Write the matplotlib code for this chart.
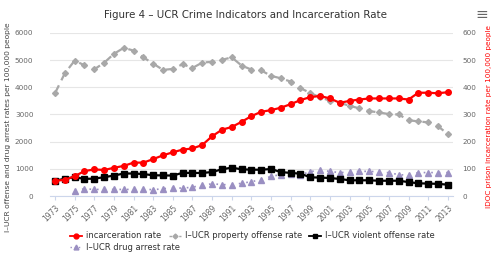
import matplotlib.pyplot as plt
from matplotlib.lines import Line2D

years = list(range(1973, 2014))

# IDOC prison incarceration rate (right axis)
incarceration = [56, 60, 73, 92, 98, 96, 104, 111, 123, 123, 136, 150, 161, 171, 175, 188,
                 220, 244, 254, 273, 294, 310, 316, 325, 338, 353, 364, 368, 359, 343,
                 350, 355, 359, 359, 359, 359, 355, 380, 380, 378, 382]

# I-UCR rates (left axis)
property_rate = [3780, 4515, 4980, 4810, 4660, 4900, 5230, 5450, 5350, 5100, 4870, 4640,
                 4675, 4850, 4710, 4910, 4935, 5010, 5100, 4800, 4650, 4620, 4420, 4330,
                 4210, 3970, 3790, 3630, 3505, 3430, 3320, 3225, 3125, 3075, 3015, 3000,
                 2790, 2745, 2710, 2570, 2280]
violent_rate = [560, 640, 690, 635, 640, 695, 755, 830, 830, 810, 765, 760, 755, 855, 850,
                850, 885, 985, 1045, 985, 970, 970, 995, 885, 850, 825, 690, 680, 665, 630,
                580, 580, 580, 565, 565, 565, 515, 470, 460, 450, 420]
drug_years = list(range(1975, 2014))
drug_rate = [200, 270, 245, 245, 245, 245, 245, 255, 235, 270, 310, 290, 330, 395, 455,
             420, 420, 470, 530, 605, 725, 790, 825, 780, 900, 950, 910, 860, 890, 910,
             910, 890, 860, 790, 765, 865, 865, 865, 865]

red = '#ff0000'
grey = '#a8a8a8'
purple = '#9a8fc2'
label_col = '#666666'

fig = plt.figure(figsize=(4.91, 2.57), dpi=100)
ax = fig.add_axes([0.102, 0.237, 0.820, 0.635])
ax2 = ax.twinx()

ax.plot(years, property_rate, color=grey, lw=1.6, ls=(0, (4, 2.5)), marker='D', ms=3,
        zorder=3)
ax.plot(drug_years, drug_rate, color=purple, lw=1.2, ls=(0, (1, 3.5)), marker='^', ms=4,
        zorder=3)
ax.plot(years, violent_rate, color='black', lw=1.6, marker='s', ms=4, zorder=4)
ax2.plot(years, incarceration, color=red, lw=1.6, marker='o', ms=4, zorder=5)

ax.set_xlim(1972.5, 2013.5)
ax.set_ylim(0, 6000)
ax2.set_ylim(0, 600)
ax.set_yticks(range(0, 6001, 1000))
ax2.set_yticks(range(0, 601, 100))
ax.set_xticks(range(1973, 2014, 2))
ax.set_xticklabels([str(y) for y in range(1973, 2014, 2)], rotation=45, ha='right',
                   rotation_mode='anchor', fontsize=5.5, color=label_col)
ax.tick_params(axis='x', length=3, color='#ccd6eb', pad=2)
ax.tick_params(axis='y', length=0, labelsize=5.2, labelcolor=label_col, pad=12)
ax2.tick_params(axis='y', length=0, labelsize=5.2, labelcolor=label_col, pad=7)
ax.grid(axis='y', color='#e6e6e6', lw=0.8)

for a in (ax, ax2):
    for s in a.spines.values():
        s.set_visible(False)
ax.spines['bottom'].set_visible(True)
ax.spines['bottom'].set_color('#ccd6eb')

ax.set_ylabel('I–UCR offense and drug arrest rates per 100,000 people', fontsize=5.4,
              color='#444444')
ax.yaxis.set_label_coords(-0.097, 0.42)
ax2.set_ylabel('IDOC prison incarceration rate per 100,000 people', fontsize=5.2,
               color=red, rotation=90)
ax2.yaxis.set_label_coords(1.083, 0.49)

fig.text(0.5, 0.942, 'Figure 4 – UCR Crime Indicators and Incarceration Rate',
         ha='center', va='center', fontsize=7.4, color='#333333')
fig.text(0.982, 0.945, '≡', ha='center', va='center', fontsize=11, color='#666666')

h_inc = Line2D([], [], color=red, lw=1.3, marker='o', ms=3.5)
h_prop = Line2D([], [], color=grey, lw=1.0, ls=(0, (2, 1.5)), marker='D', ms=2.5)
h_viol = Line2D([], [], color='black', lw=1.3, marker='s', ms=3.5)
h_drug = Line2D([], [], color=purple, lw=1.0, ls=(0, (1, 2)), marker='^', ms=3.5)
leg_kw = dict(frameon=False, fontsize=6.0, handlelength=1.45, handletextpad=0.45,
              labelcolor='#333333', borderpad=0, borderaxespad=0, loc='center left')
items = [(h_inc, 'incarceration rate', 70, 236),
         (h_prop, 'I–UCR property offense rate', 169, 236),
         (h_viol, 'I–UCR violent offense rate', 309, 236),
         (h_drug, 'I–UCR drug arrest rate', 70, 247)]
for h, lab, px, py in items:
    fig.legend([h], [lab], bbox_to_anchor=(px / 491, 1 - py / 257), **leg_kw)

fig.savefig('out.png', dpi=100)
